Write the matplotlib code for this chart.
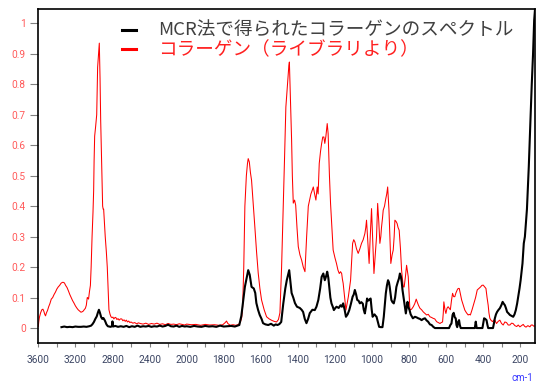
import numpy as np
import matplotlib
matplotlib.use("Agg")
import matplotlib.pyplot as plt
from matplotlib.scale import FuncScale
from matplotlib.ticker import FixedLocator, FixedFormatter

# (wavenumber cm-1, absorbance) pairs of the MCR-resolved collagen spectrum
mcr_high = [(3350, 0.003), (3320, 0.005), (3290, 0.003), (3260, 0.004), (3230, 0.003), (3200, 0.005),
            (3170, 0.004), (3140, 0.004), (3110, 0.005), (3080, 0.004), (3050, 0.006), (3030, 0.008),
            (3015, 0.013), (3000, 0.02), (2985, 0.03), (2970, 0.038), (2958, 0.05), (2946, 0.06),
            (2935, 0.05), (2922, 0.036), (2910, 0.03), (2898, 0.033), (2888, 0.028), (2878, 0.022),
            (2865, 0.012), (2850, 0.006), (2835, 0.005), (2820, 0.004), (2806, 0.006), (2800, 0.022),
            (2794, 0.005), (2770, 0.007), (2740, 0.004), (2710, 0.006), (2680, 0.004), (2650, 0.007),
            (2620, 0.003), (2590, 0.006), (2560, 0.004), (2530, 0.008), (2500, 0.004), (2470, 0.006),
            (2440, 0.005), (2410, 0.007), (2380, 0.004), (2350, 0.006), (2320, 0.005), (2290, 0.008),
            (2260, 0.005), (2230, 0.007), (2200, 0.011), (2170, 0.006), (2140, 0.005), (2110, 0.008),
            (2080, 0.004), (2050, 0.007), (2020, 0.005)]
mcr_amide = [(2000, 0.006), (1980, 0.004), (1960, 0.007), (1940, 0.005), (1920, 0.004), (1900, 0.007),
             (1880, 0.005), (1860, 0.006), (1840, 0.004), (1820, 0.008), (1800, 0.005), (1780, 0.006),
             (1760, 0.007), (1740, 0.005), (1725, 0.008), (1716, 0.01), (1705, 0.04), (1695, 0.09),
             (1686, 0.135), (1676, 0.165), (1668, 0.19), (1660, 0.175), (1650, 0.135), (1638, 0.13),
             (1630, 0.115), (1624, 0.082), (1615, 0.06), (1606, 0.043), (1596, 0.03), (1588, 0.016),
             (1575, 0.012), (1560, 0.01), (1545, 0.014), (1530, 0.008), (1520, 0.012), (1510, 0.01),
             (1500, 0.013), (1490, 0.02), (1479, 0.08), (1468, 0.13), (1460, 0.157), (1447, 0.19),
             (1440, 0.15), (1434, 0.115), (1425, 0.1), (1416, 0.082), (1405, 0.07), (1390, 0.066),
             (1380, 0.06), (1372, 0.053), (1363, 0.03), (1354, 0.016), (1345, 0.03), (1336, 0.049),
             (1322, 0.06), (1309, 0.059)]
mcr_finger = [(1300, 0.07), (1290, 0.092), (1280, 0.13), (1272, 0.168), (1263, 0.179), (1255, 0.157),
              (1248, 0.17), (1242, 0.185), (1236, 0.165), (1231, 0.135), (1225, 0.1), (1219, 0.081),
              (1212, 0.07), (1206, 0.059), (1199, 0.065), (1192, 0.07), (1180, 0.066), (1170, 0.075),
              (1163, 0.07), (1156, 0.081), (1148, 0.06), (1141, 0.037), (1132, 0.045), (1123, 0.059),
              (1114, 0.08), (1105, 0.103), (1099, 0.11), (1093, 0.125), (1086, 0.11), (1080, 0.092),
              (1073, 0.09), (1066, 0.081), (1058, 0.085), (1050, 0.08), (1045, 0.06), (1039, 0.048),
              (1033, 0.07), (1027, 0.097), (1021, 0.09), (1016, 0.092), (1008, 0.097), (1002, 0.06),
              (997, 0.037), (992, 0.042), (987, 0.045), (981, 0.04), (976, 0.037), (969, 0.02),
              (962, 0.004), (953, 0.003), (944, 0.003), (937, 0.037), (931, 0.08), (926, 0.114),
              (920, 0.14), (914, 0.157), (909, 0.15), (905, 0.135), (900, 0.11), (896, 0.092),
              (890, 0.085), (883, 0.081), (876, 0.1), (869, 0.135), (862, 0.15), (855, 0.163),
              (850, 0.179), (845, 0.17), (840, 0.15), (836, 0.125), (830, 0.1), (823, 0.07),
              (818, 0.048), (814, 0.065), (809, 0.086), (805, 0.07), (798, 0.059), (792, 0.045),
              (780, 0.032), (769, 0.037), (760, 0.035), (751, 0.032), (742, 0.03), (733, 0.026),
              (724, 0.03), (715, 0.032), (706, 0.025)]
mcr_low = [(698, 0.021), (688, 0.012), (679, 0.01), (670, 0.004), (661, 0.0), (640, 0.0), (620, 0.0),
           (600, 0.0), (585, 0.0), (578, 0.01), (572, 0.015), (566, 0.043), (560, 0.05), (554, 0.035),
           (549, 0.032), (545, 0.01), (541, 0.003), (536, 0.02), (531, 0.026), (527, 0.01), (522, 0.0),
           (490, 0.0), (470, 0.0), (455, 0.0), (446, 0.0), (441, 0.021), (436, 0.0), (420, 0.0),
           (405, 0.0), (396, 0.032), (390, 0.03), (383, 0.026), (378, 0.01), (374, 0.0), (355, 0.0),
           (348, 0.0), (343, 0.015), (338, 0.032), (332, 0.045), (326, 0.053), (318, 0.06), (311, 0.065),
           (303, 0.075), (296, 0.086), (290, 0.08), (284, 0.075), (278, 0.065), (272, 0.053), (264, 0.048),
           (257, 0.043), (248, 0.04), (239, 0.037), (232, 0.045), (225, 0.059), (218, 0.08), (212, 0.103),
           (205, 0.13), (199, 0.157), (194, 0.185), (189, 0.212), (185, 0.25), (182, 0.278), (176, 0.3),
           (171, 0.34), (165, 0.39), (160, 0.46), (155, 0.53), (150, 0.62), (145, 0.7), (139, 0.8),
           (132, 0.9), (126, 1.01), (121, 1.05)]

# (wavenumber cm-1, absorbance) pairs of the library collagen spectrum
lib_high = [(3600, 0.005), (3595, 0.02), (3588, 0.035), (3575, 0.05), (3562, 0.06), (3550, 0.062),
            (3540, 0.055), (3530, 0.045), (3522, 0.04), (3512, 0.05), (3500, 0.058), (3488, 0.07),
            (3475, 0.08), (3460, 0.095), (3445, 0.1), (3430, 0.11), (3415, 0.118), (3400, 0.128),
            (3385, 0.135), (3370, 0.14), (3355, 0.147), (3340, 0.15), (3330, 0.15), (3318, 0.148),
            (3305, 0.14), (3290, 0.133), (3275, 0.122), (3260, 0.11), (3245, 0.1), (3230, 0.09),
            (3215, 0.082), (3200, 0.073), (3185, 0.066), (3170, 0.06), (3155, 0.056), (3140, 0.052),
            (3130, 0.053), (3118, 0.055), (3105, 0.06), (3092, 0.065), (3082, 0.075), (3072, 0.1),
            (3065, 0.098), (3058, 0.095), (3048, 0.12), (3038, 0.14), (3030, 0.2), (3020, 0.3),
            (3010, 0.38), (3003, 0.45), (2998, 0.55), (2992, 0.63), (2982, 0.66), (2970, 0.70),
            (2960, 0.856), (2950, 0.9), (2942, 0.935), (2934, 0.82), (2927, 0.68), (2916, 0.54),
            (2906, 0.40), (2900, 0.39), (2895, 0.39), (2886, 0.34), (2878, 0.30), (2866, 0.25),
            (2856, 0.20), (2846, 0.12), (2838, 0.06), (2826, 0.045), (2816, 0.037), (2805, 0.034),
            (2795, 0.036), (2785, 0.03), (2775, 0.034), (2765, 0.035), (2752, 0.028), (2740, 0.031),
            (2728, 0.026), (2715, 0.03), (2700, 0.03), (2688, 0.024), (2675, 0.027), (2662, 0.022),
            (2650, 0.026), (2638, 0.02), (2625, 0.023), (2612, 0.018), (2600, 0.02), (2580, 0.016),
            (2560, 0.018), (2540, 0.014), (2520, 0.017), (2500, 0.015), (2470, 0.013), (2440, 0.016),
            (2410, 0.012), (2380, 0.015), (2350, 0.013), (2320, 0.016), (2290, 0.012), (2260, 0.014),
            (2230, 0.011), (2200, 0.015), (2170, 0.012), (2140, 0.013), (2110, 0.011), (2080, 0.014),
            (2050, 0.012), (2020, 0.01)]
lib_amide = [(2000, 0.013), (1975, 0.011), (1950, 0.012), (1925, 0.009), (1900, 0.012), (1875, 0.01),
             (1850, 0.011), (1825, 0.009), (1805, 0.011), (1792, 0.018), (1785, 0.023), (1778, 0.015),
             (1765, 0.009), (1750, 0.011), (1735, 0.009), (1720, 0.012), (1710, 0.02), (1703, 0.035),
             (1698, 0.07), (1692, 0.2), (1686, 0.40), (1678, 0.5), (1672, 0.54), (1668, 0.556),
             (1662, 0.545), (1656, 0.51), (1650, 0.485), (1641, 0.41), (1632, 0.33), (1623, 0.25),
             (1614, 0.18), (1605, 0.13), (1596, 0.092), (1582, 0.06), (1569, 0.037), (1555, 0.03),
             (1540, 0.025), (1528, 0.022), (1515, 0.02), (1505, 0.028), (1497, 0.05), (1488, 0.2),
             (1479, 0.40), (1472, 0.56), (1465, 0.725), (1456, 0.8), (1449, 0.86), (1446, 0.873),
             (1440, 0.75), (1434, 0.616), (1430, 0.5), (1425, 0.41), (1418, 0.42), (1412, 0.403),
             (1405, 0.33), (1398, 0.267), (1389, 0.24), (1380, 0.223), (1371, 0.2), (1362, 0.185),
             (1353, 0.3), (1344, 0.40), (1337, 0.42), (1330, 0.44), (1324, 0.45), (1317, 0.463),
             (1310, 0.44), (1303, 0.42)]
lib_finger = [(1296, 0.463), (1291, 0.44), (1285, 0.54), (1278, 0.58), (1272, 0.606), (1266, 0.627),
              (1260, 0.627), (1255, 0.606), (1249, 0.63), (1242, 0.671), (1237, 0.638), (1230, 0.5),
              (1224, 0.409), (1217, 0.33), (1210, 0.256), (1200, 0.23), (1192, 0.212), (1184, 0.19),
              (1177, 0.179), (1170, 0.185), (1164, 0.179), (1160, 0.16), (1156, 0.147), (1148, 0.1),
              (1141, 0.059), (1135, 0.08), (1128, 0.103), (1122, 0.13), (1116, 0.157), (1110, 0.22),
              (1105, 0.278), (1099, 0.29), (1093, 0.283), (1084, 0.26), (1075, 0.245), (1066, 0.26),
              (1057, 0.278), (1048, 0.29), (1039, 0.31), (1034, 0.33), (1030, 0.354), (1023, 0.28),
              (1016, 0.212), (1010, 0.3), (1003, 0.392), (996, 0.28), (990, 0.179), (983, 0.24),
              (976, 0.30), (970, 0.409), (964, 0.35), (958, 0.278), (953, 0.3), (949, 0.332),
              (944, 0.36), (940, 0.387), (933, 0.4), (926, 0.425), (921, 0.44), (916, 0.463),
              (912, 0.42), (909, 0.387), (904, 0.3), (899, 0.212), (892, 0.24), (886, 0.256),
              (881, 0.3), (877, 0.354), (871, 0.35), (865, 0.343), (860, 0.33), (854, 0.321),
              (847, 0.26), (841, 0.19), (836, 0.16), (832, 0.135), (827, 0.135), (820, 0.17),
              (814, 0.206), (810, 0.19), (805, 0.168), (800, 0.11), (796, 0.059), (787, 0.062),
              (778, 0.07), (770, 0.08), (762, 0.095), (757, 0.086), (750, 0.075), (742, 0.065),
              (733, 0.06), (724, 0.053), (715, 0.048), (706, 0.043)]
lib_low = [(697, 0.045), (688, 0.037), (680, 0.035), (671, 0.032), (662, 0.03), (652, 0.021),
           (643, 0.018), (634, 0.015), (627, 0.018), (620, 0.02), (616, 0.05), (613, 0.086),
           (607, 0.06), (602, 0.048), (596, 0.065), (590, 0.07), (584, 0.065), (578, 0.06),
           (572, 0.09), (566, 0.114), (560, 0.103), (554, 0.103), (548, 0.115), (541, 0.125),
           (536, 0.13), (530, 0.13), (523, 0.11), (517, 0.092), (508, 0.075), (500, 0.059),
           (491, 0.05), (482, 0.043), (476, 0.045), (470, 0.043), (461, 0.06), (451, 0.081),
           (442, 0.1), (433, 0.125), (424, 0.13), (415, 0.135), (408, 0.14), (401, 0.141),
           (393, 0.135), (386, 0.13), (380, 0.1), (374, 0.075), (370, 0.05), (365, 0.032),
           (358, 0.025), (350, 0.021), (344, 0.026), (338, 0.026), (332, 0.018), (329, 0.015),
           (320, 0.022), (311, 0.026), (302, 0.015), (293, 0.01), (284, 0.02), (275, 0.018),
           (266, 0.01), (257, 0.01), (248, 0.016), (240, 0.015), (230, 0.008), (220, 0.005),
           (212, 0.01), (203, 0.004), (194, 0.008), (185, 0.012), (178, 0.006), (170, 0.003),
           (160, 0.008), (149, 0.004), (142, 0.01), (135, 0.01), (128, 0.006), (122, 0.007)]

legend_labels = ["MCR法で得られたコラーゲンのスペクトル", "コラーゲン（ライブラリより）"]
y_ticks = [0, 0.1, 0.2, 0.3, 0.4, 0.5, 0.6, 0.7, 0.8, 0.9, 1.0]
y_tick_labels = ["0", "0.1", "0.2", "0.3", "0.4", "0.5", "0.6", "0.7", "0.8", "0.9", "1"]
x_major = [3600, 3200, 2800, 2400, 2000, 1800, 1600, 1400, 1200, 1000, 800, 600, 400, 200]
x_minor = [3400, 3000, 2600, 2200, 1900, 1700, 1500, 1300, 1100, 900, 700, 500, 300]

mcr = np.array(mcr_high + mcr_amide + mcr_finger + mcr_low)
lib = np.array(lib_high + lib_amide + lib_finger + lib_low)


# Wavenumber axis compressed by half above 2000 cm-1
def fwd(x):
    x = np.asarray(x, dtype=float)
    return np.where(x > 2000, 2000 + (x - 2000) / 2.0, x)


def inv(u):
    u = np.asarray(u, dtype=float)
    return np.where(u > 2000, 2000 + (u - 2000) * 2.0, u)


fig = plt.figure(figsize=(5.37, 3.85), dpi=100)
ax = fig.add_axes([0.0713, 0.1099, 0.9255, 0.8675])
ax.set_xscale(FuncScale(ax, (fwd, inv)))

ln_mcr, = ax.plot(mcr[:, 0], mcr[:, 1], color="black", lw=1.5, label=legend_labels[0], zorder=3)
ln_lib, = ax.plot(lib[:, 0], lib[:, 1], color="#ff0000", lw=0.75, label=legend_labels[1], zorder=2)

ax.set_xlim(3600, 120)
ax.set_ylim(-0.048, 1.048)

ax.xaxis.set_major_locator(FixedLocator(x_major))
ax.xaxis.set_major_formatter(FixedFormatter([str(v) for v in x_major]))
ax.xaxis.set_minor_locator(FixedLocator(x_minor))
ax.set_yticks(y_ticks)
ax.set_yticklabels(y_tick_labels)

ax.tick_params(axis="x", which="both", length=3, width=0.8, color="#808080",
               labelsize=7.3, labelcolor="#3c4664", pad=6)
ax.tick_params(axis="y", length=6, width=0.8, color="#808080",
               labelsize=7.3, labelcolor="#ff5a5a", pad=3)
for lab in ax.get_xticklabels() + ax.get_yticklabels():
    lab.set_family(["Roboto", "DejaVu Sans"])

for sp in ax.spines.values():
    sp.set_color("black")
    sp.set_linewidth(1.2)

leg = ax.legend(handles=[ln_mcr, ln_lib], loc="upper left", bbox_to_anchor=(0.168, 0.96),
                frameon=False, borderpad=0, borderaxespad=0, handlelength=0.75,
                handletextpad=1.18, labelspacing=0.08,
                prop={"family": ["Noto Sans CJK JP", "DejaVu Sans"], "size": 13.4},
                labelcolor=["#404040", "#ff2020"])
for h in leg.legend_handles:
    h.set_linewidth(2.2)

fig.text(0.972, 0.004, "cm-1", color="#3a3aff", fontsize=7, ha="center", va="bottom",
         family=["Roboto", "DejaVu Sans"])

fig.savefig("out.png", dpi=100, facecolor="white")
